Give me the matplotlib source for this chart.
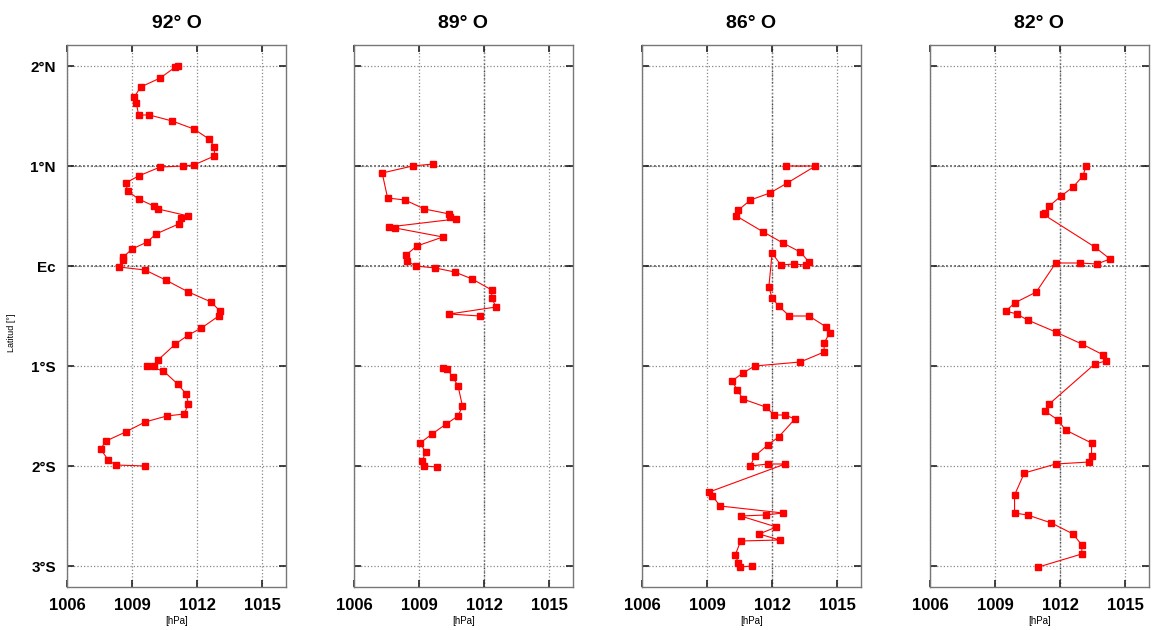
import matplotlib
matplotlib.use("Agg")
import matplotlib.pyplot as plt
import numpy as np

plt.rcParams['font.family'] = ['Liberation Sans', 'DejaVu Sans']

titles = ["92° O", "89° O", "86° O", "82° O"]
ytick_vals = [2, 1, 0, -1, -2, -3]
ytick_labels = ["2°N", "1°N", "Ec", "1°S", "2°S", "3°S"]
xtick_vals = [1006, 1009, 1012, 1015]
xtick_labels = ["1006", "1009", "1012", "1015"]

p92 = [1011.1, 1011.0, 1010.3, 1009.4, 1009.1, 1009.2, 1009.3, 1009.8, 1010.85, 1011.85,
       1012.55, 1012.8, 1012.8, 1011.85, 1011.35, 1010.3, 1009.3, 1008.7, 1008.8, 1009.3,
       1010.0, 1010.2, 1011.6, 1011.25, 1011.15, 1010.1, 1009.7, 1009.0, 1008.6, 1008.6,
       1008.4, 1009.6, 1010.55, 1011.6, 1012.65, 1013.05, 1013.0, 1012.2, 1011.6, 1011.0,
       1010.2, 1010.0, 1009.7, 1010.45, 1011.1, 1011.5, 1011.6, 1011.4, 1010.6, 1009.6,
       1008.7, 1007.8, 1007.55, 1007.9, 1008.25, 1009.6]
lat92 = [2.0, 1.99, 1.88, 1.79, 1.69, 1.63, 1.51, 1.51, 1.45, 1.37,
         1.27, 1.19, 1.10, 1.01, 1.0, 0.99, 0.90, 0.83, 0.75, 0.67,
         0.60, 0.57, 0.50, 0.48, 0.42, 0.32, 0.24, 0.17, 0.09, 0.06,
         -0.01, -0.04, -0.14, -0.26, -0.36, -0.45, -0.50, -0.62, -0.69, -0.78,
         -0.94, -1.0, -1.0, -1.05, -1.18, -1.28, -1.38, -1.48, -1.50, -1.56,
         -1.66, -1.75, -1.83, -1.94, -1.99, -2.0]

p89 = [1009.65, 1008.7, 1007.3, 1007.55, 1008.35, 1009.25, 1010.4, 1010.45, 1010.7, 1007.6,
       1007.9, 1010.1, 1008.9, 1008.4, 1008.45, 1008.85, 1009.75, 1010.65, 1011.45, 1012.35,
       1012.35, 1012.55, 1010.4, 1011.8, np.nan,
       1010.1, 1010.3, 1010.55, 1010.8, 1011.0, 1010.8, 1010.25, 1009.6, 1009.05, 1009.3,
       1009.15, 1009.25, 1009.85]
lat89 = [1.02, 1.0, 0.93, 0.68, 0.66, 0.57, 0.52, 0.49, 0.47, 0.39,
         0.38, 0.29, 0.20, 0.11, 0.05, 0.0, -0.02, -0.06, -0.13, -0.24,
         -0.32, -0.41, -0.48, -0.50, np.nan,
         -1.02, -1.03, -1.11, -1.20, -1.40, -1.50, -1.58, -1.68, -1.77, -1.86,
         -1.95, -2.0, -2.01]

p86 = [1012.63, 1014.0, 1012.7, 1011.9, 1011.0, 1010.45, 1010.35, 1011.6, 1012.5, 1013.3,
       1013.7, 1013.55, 1013.0, 1012.4, 1012.0, 1011.85, 1012.0, 1012.3, 1012.8, 1013.7,
       1014.5, 1014.65, 1014.4, 1014.4, 1013.3, 1011.2, 1010.65, 1010.15, 1010.4, 1010.65,
       1011.7, 1012.1, 1012.6, 1013.05, 1012.3, 1011.8, 1011.2, 1011.0, 1011.8, 1012.6,
       1009.1, 1009.25, 1009.6, 1012.5, 1011.7, 1010.55, 1012.2, 1011.4, 1012.35, 1010.55,
       1010.3, 1010.45, 1010.5, 1011.05]
lat86 = [1.0, 1.0, 0.83, 0.73, 0.66, 0.56, 0.50, 0.34, 0.23, 0.14,
         0.04, 0.01, 0.02, 0.01, 0.13, -0.21, -0.32, -0.40, -0.50, -0.50,
         -0.61, -0.67, -0.77, -0.86, -0.96, -1.0, -1.07, -1.15, -1.24, -1.33,
         -1.41, -1.49, -1.49, -1.53, -1.71, -1.79, -1.90, -2.0, -1.98, -1.98,
         -2.26, -2.30, -2.40, -2.47, -2.49, -2.50, -2.61, -2.68, -2.74, -2.75,
         -2.89, -2.97, -3.01, -3.0]

p82 = [1013.2, 1013.05, 1012.6, 1012.05, 1011.5, 1011.3, 1011.2, 1013.6, 1014.3, 1013.7,
       1012.9, 1011.8, 1010.9, 1009.9, 1009.5, 1010.0, 1010.5, 1011.8, 1013.0, 1014.0,
       1014.1, 1013.6, 1011.5, 1011.3, 1011.9, 1012.25, 1013.45, 1013.45, 1013.35, 1011.8,
       1010.35, 1009.9, 1009.9, 1010.5, 1011.6, 1012.6, 1013.0, 1013.0, 1011.0]
lat82 = [1.0, 0.90, 0.79, 0.70, 0.60, 0.53, 0.52, 0.19, 0.07, 0.02,
         0.03, 0.03, -0.26, -0.37, -0.45, -0.48, -0.54, -0.66, -0.78, -0.89,
         -0.95, -0.98, -1.38, -1.45, -1.54, -1.64, -1.77, -1.90, -1.96, -1.98,
         -2.07, -2.29, -2.47, -2.49, -2.57, -2.68, -2.79, -2.88, -3.01]

series = [(p92, lat92), (p89, lat89), (p86, lat86), (p82, lat82)]

W, H = 1154, 630
fig = plt.figure(figsize=(W / 100, H / 100), dpi=100)
lefts = [67, 354, 642, 930]
ax_w, ax_top, ax_bot = 219, 45, 587

for i, ((p, lat), title) in enumerate(zip(series, titles)):
    ax = fig.add_axes([lefts[i] / W, (H - ax_bot) / H, ax_w / W, (ax_bot - ax_top) / H])
    ax.plot(p, lat, color='red', linewidth=0.8, marker='s', markersize=3.8,
            markerfacecolor='red', markeredgecolor='red', zorder=3)
    ax.set_xlim(1006, 1016.1)
    ax.set_ylim(-3.21, 2.21)
    ax.set_xticks(xtick_vals)
    ax.set_xticklabels(xtick_labels, fontsize=12, fontweight='bold')
    ax.set_yticks(ytick_vals)
    if i == 0:
        ax.set_yticklabels(ytick_labels, fontsize=11, fontweight='bold')
        ax.set_ylabel("Latitud [°]", fontsize=6.5)
        ax.yaxis.set_label_coords(-0.235, 0.47)
    else:
        ax.set_yticklabels([])
    ax.tick_params(direction='in', length=5, width=1.2, top=True, right=True,
                   color='#222222', pad=8)
    ax.grid(True, linestyle=':', color='#888888', linewidth=0.9)
    for yv in (1, 0):
        ax.axhline(yv, linestyle=':', color='#222222', linewidth=1.1, zorder=1)
    if i > 0:
        ax.axvline(1012, linestyle=':', color='#444444', linewidth=1.0, zorder=1)
    for sp in ax.spines.values():
        sp.set_color('#777777')
        sp.set_linewidth(1.0)
    ax.set_title(title, fontsize=14, fontweight='bold', pad=12)
    ax.set_xlabel("[hPa]", fontsize=7, labelpad=2)

fig.savefig("out.png", dpi=100)
